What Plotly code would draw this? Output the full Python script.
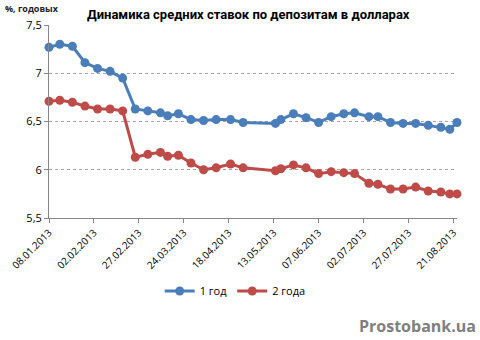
import plotly.graph_objects as go
import pandas as pd

# Observation dates (2013)
dates = [
    "2013-01-08", "2013-01-14", "2013-01-21", "2013-01-28", "2013-02-04",
    "2013-02-11", "2013-02-18", "2013-02-25", "2013-03-04", "2013-03-11",
    "2013-03-15", "2013-03-21", "2013-03-28", "2013-04-04", "2013-04-11",
    "2013-04-19", "2013-04-26", "2013-05-14", "2013-05-17", "2013-05-24",
    "2013-05-31", "2013-06-07", "2013-06-14", "2013-06-21", "2013-06-27",
    "2013-07-05", "2013-07-10", "2013-07-17", "2013-07-24", "2013-07-31",
    "2013-08-07", "2013-08-14", "2013-08-19", "2013-08-23",
]

# Average USD deposit rates, % per annum
rate_1y = [
    7.27, 7.30, 7.28, 7.11, 7.05, 7.02, 6.95, 6.63, 6.61, 6.59,
    6.56, 6.58, 6.52, 6.51, 6.52, 6.52, 6.49, 6.48, 6.52, 6.58,
    6.54, 6.49, 6.55, 6.58, 6.59, 6.55, 6.55, 6.49, 6.48, 6.48,
    6.46, 6.44, 6.42, 6.49,
]
rate_2y = [
    6.71, 6.72, 6.70, 6.66, 6.63, 6.63, 6.61, 6.13, 6.16, 6.18,
    6.14, 6.15, 6.07, 6.00, 6.02, 6.06, 6.02, 5.99, 6.01, 6.05,
    6.02, 5.96, 5.98, 5.97, 5.96, 5.86, 5.85, 5.80, 5.80, 5.82,
    5.78, 5.77, 5.75, 5.75,
]

series_names = ["1 год", "2 года"]
series_colors = ["#4A7EBB", "#BE4B48"]

# Date axis ticks every 25 days starting 08.01.2013
tick_dates = pd.date_range("2013-01-08", periods=10, freq="25D")
tick_text = [d.strftime("%d.%m.%Y") for d in tick_dates]

y_ticks = [5.5, 6, 6.5, 7, 7.5]
y_text = ["5,5", "6", "6,5", "7", "7,5"]

fig = go.Figure()
for name, vals, col in zip(series_names, [rate_1y, rate_2y], series_colors):
    fig.add_trace(go.Scatter(
        x=pd.to_datetime(dates), y=vals, name=name,
        mode="lines+markers",
        line=dict(color=col, width=3),
        marker=dict(color=col, size=9, symbol="circle"),
        cliponaxis=False,
    ))

fig.update_layout(
    width=480, height=340,
    margin=dict(l=49, r=23, t=25, b=122, autoexpand=False),
    paper_bgcolor="white", plot_bgcolor="white",
    font=dict(family="Open Sans, sans-serif", size=11, color="#000000"),
    showlegend=True,
    legend=dict(
        orientation="h", xref="container", yref="container",
        x=0.49, xanchor="center", y=1 - 291 / 340, yanchor="middle",
        font=dict(size=11, color="#000000"),
        itemwidth=30, tracegroupgap=0,
    ),
    annotations=[
        dict(text="<b>Динамика средних ставок по депозитам в долларах</b>",
             xref="paper", yref="paper", x=0.49, y=1.0, xanchor="center", yanchor="bottom",
             yshift=1, showarrow=False,
             font=dict(family="Roboto, sans-serif", size=13, color="#000000")),
        dict(text="<b>%, годовых</b>", xref="paper", yref="paper",
             x=0, y=1, xanchor="left", yanchor="bottom", xshift=-46, yshift=8,
             showarrow=False, font=dict(size=9, color="#222222")),
        dict(text="<b>Prostobank.ua</b>", xref="paper", yref="paper",
             x=1, y=0, xanchor="right", yanchor="middle", xshift=21, yshift=-108,
             showarrow=False,
             font=dict(family="Open Sans, sans-serif", size=16, color="#808080")),
    ],
)

fig.update_xaxes(
    type="date", automargin=False,
    range=[pd.Timestamp("2013-01-08"), pd.Timestamp("2013-08-23")],
    tickvals=tick_dates, ticktext=tick_text, tickangle=-45,
    tickfont=dict(size=10),
    showgrid=False, zeroline=False,
    showline=True, linecolor="#868686", linewidth=1,
    ticks="outside", ticklen=4, tickcolor="#868686",
)
fig.update_yaxes(
    range=[5.5, 7.5], tickvals=y_ticks, ticktext=y_text, automargin=False,
    tickfont=dict(size=11),
    showgrid=True, gridcolor="#A6A6A6", griddash="dot", gridwidth=1,
    zeroline=False,
    showline=True, linecolor="#868686", linewidth=1,
    ticks="outside", ticklen=4, tickcolor="#868686",
)

fig.write_html("out.html")
